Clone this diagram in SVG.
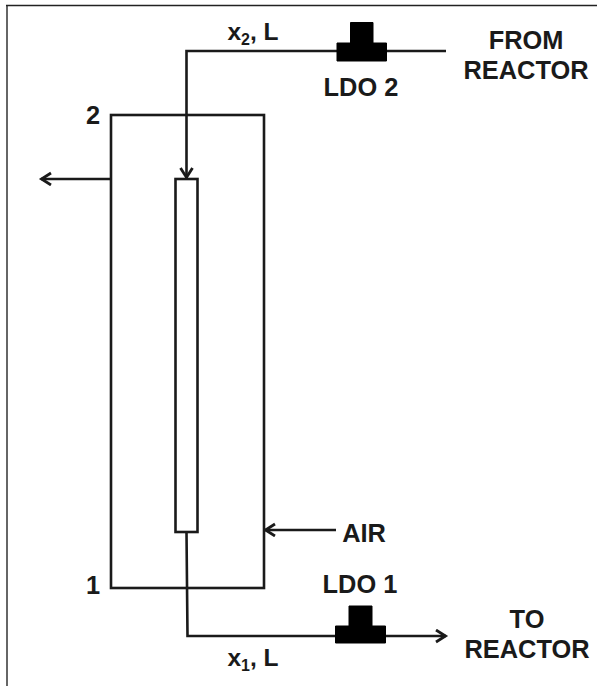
<svg xmlns="http://www.w3.org/2000/svg" width="597" height="686" viewBox="0 0 597 686">
<style>
.ln{fill:none;stroke:#1a1a1a;stroke-width:2.6}
.t{font-family:"Liberation Sans",Arial,sans-serif;font-weight:700;font-size:25.400px;fill:#1a1a1a;text-anchor:middle}
.m{font-size:24.500px}
.s{font-size:16px}
.v{fill:#000;stroke:#000;stroke-width:1;stroke-linejoin:round}
</style>
<defs>
<marker id="arr" markerUnits="userSpaceOnUse" markerWidth="16" markerHeight="16" refX="13" refY="7" orient="auto">
<path d="M3 1L12.500 7L3 13" fill="none" stroke="#1a1a1a" stroke-width="2.800"/>
</marker>
</defs>
<rect width="597" height="686" fill="#fff"/>
<path id="frame-left" d="M7 686V5" fill="none" stroke="#666" stroke-width="2"/>
<path id="frame-top" d="M6 5.500H597" fill="none" stroke="#222" stroke-width="1.500"/>
<g id="connectors">
<path class="ln" d="M446 51H186.500V178" marker-end="url(#arr)"/>
<path class="ln" d="M110 179H41" marker-end="url(#arr)"/>
<path class="ln" d="M186.500 532L187.500 636H446" marker-end="url(#arr)"/>
<path class="ln" d="M336 530H265" marker-end="url(#arr)"/>
</g>
<g id="column"><rect class="ln" x="111" y="115" width="153" height="473"/></g>
<g id="tube"><rect x="175.500" y="179" width="22" height="353" fill="#fff" stroke="#1a1a1a" stroke-width="2.600"/></g>
<g id="ldo2"><path class="v" d="M337 61V43H350.500V22.500H373V43H386.500V61Z"/><text class="t" x="361" y="96">LDO 2</text></g>
<g id="ldo1"><path class="v" d="M335.500 643V626H349V606H372V626H385.500V643Z"/><text class="t" x="360" y="593">LDO 1</text></g>
<g id="label-x2"><text class="t m" x="253" y="39.500">x<tspan class="s" dy="5">2</tspan><tspan dy="-5">, L</tspan></text></g>
<g id="label-x1"><text class="t m" x="253" y="666">x<tspan class="s" dy="5">1</tspan><tspan dy="-5">, L</tspan></text></g>
<g id="label-2"><text class="t" x="93" y="124">2</text></g>
<g id="label-1"><text class="t" x="93" y="594">1</text></g>
<g id="label-air"><text class="t" x="364" y="542">AIR</text></g>
<g id="from"><text class="t" x="526" y="49">FROM</text><text class="t" x="526" y="79">REACTOR</text></g>
<g id="to"><text class="t" x="527" y="628">TO</text><text class="t" x="527" y="658">REACTOR</text></g>
</svg>
